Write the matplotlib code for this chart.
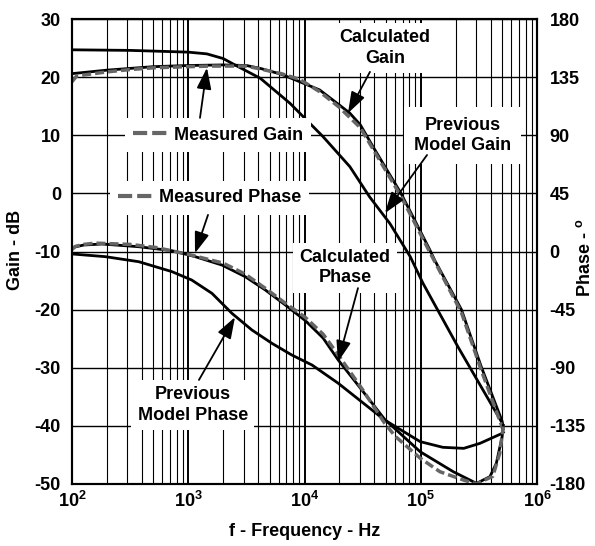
import matplotlib
matplotlib.use('Agg')
import matplotlib.pyplot as plt
import numpy as np
from matplotlib.lines import Line2D
from matplotlib.ticker import LogLocator, NullFormatter

plt.rcParams['font.family'] = 'Liberation Sans'
plt.rcParams['font.weight'] = 'bold'
plt.rcParams['axes.unicode_minus'] = False
plt.rcParams['mathtext.fontset'] = 'custom'
plt.rcParams['mathtext.rm'] = 'Liberation Sans:bold'
plt.rcParams['mathtext.bf'] = 'Liberation Sans:bold'
plt.rcParams['mathtext.default'] = 'bf'

# frequencies are kept as log10(Hz)
calc_gain_logf = [2.0, 2.3, 2.7, 3.0, 3.3, 3.5, 3.62, 3.8, 3.96, 4.13, 4.30, 4.39,
                  4.48, 4.59, 4.83, 5.08, 5.12, 5.35, 5.52, 5.70, 5.705]
calc_gain_db = [20.6, 21.2, 21.8, 22.0, 22.1, 22.0, 21.5, 20.5, 19.2, 17.8, 15.2, 13.8,
                11.8, 8.0, 0.0, -9.8, -11.5, -20.0, -29.8, -39.2, -40.0]

meas_gain_logf = [2.0, 2.04, 2.15, 2.3, 2.5, 2.7, 3.0, 3.2, 3.5, 3.62, 3.8, 3.96, 4.13,
                  4.30, 4.48, 4.59, 4.83, 5.08, 5.35, 5.52, 5.70, 5.71]
meas_gain_db = [19.2, 20.2, 20.5, 20.9, 21.3, 21.6, 21.8, 21.9, 21.9, 21.4, 20.6, 19.6, 17.5,
                14.8, 11.3, 7.6, -0.5, -10.2, -20.5, -30.4, -40.2, -40.8]

prev_gain_logf = [2.0, 2.5, 3.0, 3.16, 3.3, 3.42, 3.62, 3.875, 4.16, 4.39, 4.56, 4.735,
                  4.91, 5.02, 5.32, 5.70, 5.705]
prev_gain_db = [24.7, 24.6, 24.3, 24.0, 23.2, 21.9, 19.8, 15.5, 9.75, 4.6, -0.6, -5.2,
                -10.9, -15.5, -26.4, -39.5, -40.0]

calc_phase_logf = [2.0, 2.1, 2.258, 2.574, 2.86, 3.06, 3.29, 3.49, 3.663, 3.835, 4.007,
                   4.16, 4.29, 4.5, 4.69, 4.995, 5.28, 5.48, 5.595, 5.65, 5.70, 5.71]
calc_phase_deg = [3.0, 5.0, 5.8, 3.7, 0.6, -4.0, -10.5, -19.5, -29.8, -41.4, -53.5,
                  -67.0, -84.0, -108.0, -130.0, -155.0, -170.5, -179.5, -174.3, -164.0, -143.4, -134.5]

meas_phase_logf = [2.0, 2.03, 2.1, 2.2, 2.5, 2.73, 3.015, 3.3, 3.49, 3.663, 3.835, 4.007,
                   4.16, 4.29, 4.5, 4.69, 4.78, 4.995, 5.165, 5.37, 5.48, 5.62, 5.68, 5.71]
meas_phase_deg = [1.5, 4.0, 5.5, 6.5, 5.5, 3.0, -2.5, -9.0, -17.5, -28.5, -40.0, -51.0,
                  -64.0, -80.0, -107.0, -133.0, -143.0, -160.0, -170.5, -177.0, -180.0, -174.0, -156.0, -135.5]

prev_phase_logf = [2.0, 2.287, 2.574, 2.86, 3.03, 3.204, 3.376, 3.548, 3.72, 3.89, 4.065,
                   4.29, 4.69, 4.995, 5.19, 5.37, 5.51, 5.70, 5.71]
prev_phase_deg = [-1.9, -4.0, -7.9, -15.6, -22.1, -32.4, -47.9, -60.8, -71.1, -80.1, -87.9,
                  -102.0, -130.5, -147.2, -151.6, -152.4, -148.5, -140.8, -140.0]

freq_ticks = [1e2, 1e3, 1e4, 1e5, 1e6]
freq_labels = [r'$10^{2}$', r'$10^{3}$', r'$10^{4}$', r'$10^{5}$', r'$10^{6}$']
gain_ticks = list(range(-50, 31, 10))
phase_ticks = list(range(-180, 181, 45))

grey = '#666666'
W, H = 595, 546

fig = plt.figure(figsize=(W / 100, H / 100), dpi=100)
ax = fig.add_axes([72 / W, 1 - 484 / H, 465 / W, 465 / H])
ax2 = ax.twinx()

ax.set_xscale('log')
ax.set_xlim(1e2, 1e6)
ax.set_ylim(-50, 30)
ax2.set_ylim(-180, 180)

ax.set_xticks(freq_ticks)
ax.set_xticklabels(freq_labels)
ax.xaxis.set_minor_locator(LogLocator(base=10, subs=np.arange(2, 10)))
ax.xaxis.set_minor_formatter(NullFormatter())
ax.set_yticks(gain_ticks)
ax2.set_yticks(phase_ticks)

ax.grid(which='major', axis='x', color='black', lw=1.4)
ax.grid(which='minor', axis='x', color='black', lw=0.8)
ax.grid(which='major', axis='y', color='black', lw=1.0)
ax.set_axisbelow(True)

ax.tick_params(axis='x', which='both', length=0, labelsize=13, pad=5)
ax.tick_params(axis='y', length=0, labelsize=13, pad=8)
ax2.tick_params(axis='y', length=0, labelsize=13, pad=9)
for a in (ax, ax2):
    for sp in a.spines.values():
        sp.set_linewidth(1.5)

# gain traces
ax.plot(10 ** np.array(prev_gain_logf), prev_gain_db, color='black', lw=2.0)
ax.plot(10 ** np.array(calc_gain_logf), calc_gain_db, color='black', lw=2.0)
ax.plot(10 ** np.array(meas_gain_logf), meas_gain_db, color=grey, lw=2.5, dashes=(2.6, 1.15))

# phase traces
ax2.plot(10 ** np.array(prev_phase_logf), prev_phase_deg, color='black', lw=2.0)
ax2.plot(10 ** np.array(calc_phase_logf), calc_phase_deg, color='black', lw=2.0)
ax2.plot(10 ** np.array(meas_phase_logf), meas_phase_deg, color=grey, lw=2.5, dashes=(2.6, 1.15))

# legends for the measured traces
dash_handle = Line2D([], [], color=grey, lw=3, dashes=(3.4, 1.2))
leg_kw = dict(loc='center left', bbox_transform=fig.transFigure, frameon=True,
              fancybox=False, framealpha=1, edgecolor='none', fontsize=13,
              handlelength=1.85, handletextpad=0.4, borderpad=0.45, borderaxespad=0)
leg_gain = ax2.legend([dash_handle], ['Measured Gain'],
                      bbox_to_anchor=(125 / W, 1 - 135 / H), **leg_kw)
leg_gain.set_zorder(10)
ax2.add_artist(leg_gain)
leg_phase = ax2.legend([dash_handle], ['Measured Phase'],
                       bbox_to_anchor=(110 / W, 1 - 198 / H), **leg_kw)
leg_phase.set_zorder(10)

box = dict(boxstyle='square,pad=0.35', fc='white', ec='none')
txt_kw = dict(transform=ax.transData, ha='center', va='center', fontsize=13,
              linespacing=1.25, bbox=box, zorder=10)
ax2.text(10 ** 4.692, 25.0, 'Calculated\nGain', **txt_kw)
ax2.text(10 ** 5.363, 10.0, 'Previous\nModel Gain',
         **{**txt_kw, 'bbox': dict(boxstyle='square,pad=0.55', fc='white', ec='none')})
ax2.text(10 ** 4.348, -12.8, 'Calculated\nPhase', **txt_kw)
ax2.text(10 ** 3.04, -36.4, 'Previous\nModel Phase', **txt_kw)

arrow = dict(arrowstyle='-|>,head_length=1.3,head_width=0.45', color='black',
             lw=1.3, mutation_scale=10, shrinkA=0, shrinkB=0)
arrows = [
    ((10 ** 4.563, 20.9), (10 ** 4.374, 13.8)),
    ((10 ** 5.054, 6.6), (10 ** 4.692, -3.4)),
    ((10 ** 3.101, 13.0), (10 ** 3.161, 21.6)),
    ((10 ** 3.17, -3.7), (10 ** 3.058, -10.3)),
    ((10 ** 4.46, -16.3), (10 ** 4.288, -29.0)),
    ((10 ** 3.092, -32.1), (10 ** 3.402, -21.3)),
]
for tail, head in arrows:
    ax2.annotate('', xy=head, xycoords=ax.transData, xytext=tail,
                 textcoords=ax.transData, arrowprops=arrow, zorder=11)

fig.text(15 / W, 1 - 250 / H, 'Gain - dB', rotation=90, ha='center', va='center', fontsize=13)
fig.text(585 / W, 1 - 258 / H, r'Phase - $^{o}$', rotation=90, ha='center', va='center', fontsize=13)
fig.text(305 / W, 1 - 532 / H, 'f - Frequency - Hz', ha='center', va='center', fontsize=13)

fig.savefig('out.png', dpi=100)
